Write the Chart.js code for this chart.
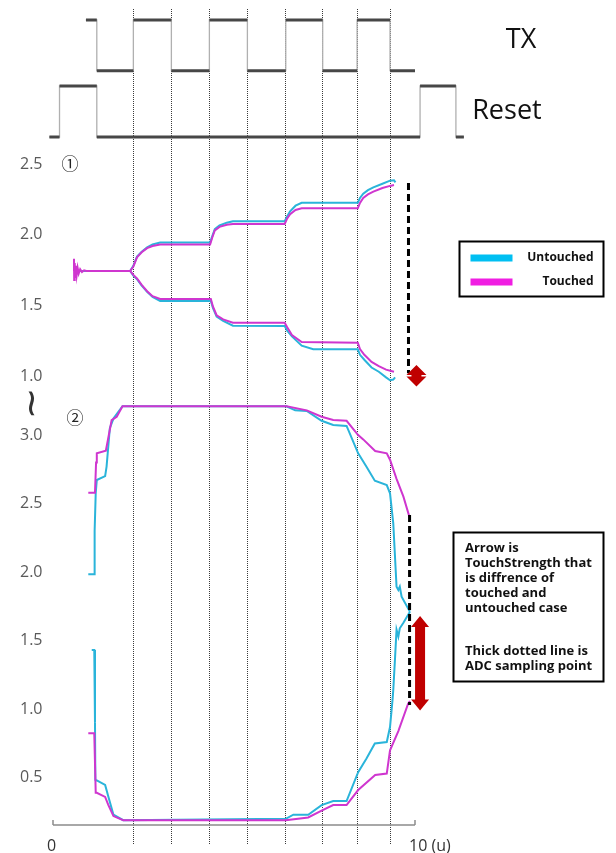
<!DOCTYPE html>
<html><head><meta charset="utf-8">
<script src="https://cdn.jsdelivr.net/npm/chart.js@4.4.1/dist/chart.umd.min.js"></script>
<style>html,body{margin:0;padding:0;background:#fff}#wrap{width:616px;height:853px}</style>
</head><body><div id="wrap"><canvas id="c" width="616" height="853"></canvas></div>
<script>
// ---------- data ----------
const seriesNames = ['Untouched', 'Touched'];
const xTickValues = [0, 10];
const xTickLabels = ['0', '10 (u)'];
const panel1Ticks = [1.0, 1.5, 2.0, 2.5];
const panel2Ticks = [0.5, 1.0, 1.5, 2.0, 2.5, 3.0];
const phaseMarkers = [2.21, 3.26, 4.31, 5.36, 6.42, 7.44, 8.40, 9.31];

// digital waveforms (time, level held until next time)
const txTimes  = [0.91, 1.21, 2.22, 3.27, 4.32, 5.37, 6.43, 7.45, 8.40, 9.31, 10.0];
const txLevels = [1, 0, 1, 0, 1, 0, 1, 0, 1, 0, 0];
const rstTimes  = [-0.10, 0.18, 1.21, 10.14, 11.13, 11.35];
const rstLevels = [0, 1, 0, 1, 0, 0];

// panel 1 (V)
const p1UntouchedUpper = [[0.58,1.743],[2.13,1.743],[2.22,1.78],[2.32,1.845],[2.45,1.88],[2.60,1.91],[2.75,1.93],[2.96,1.945],[4.34,1.945],[4.40,1.99],[4.47,2.04],[4.60,2.065],[4.80,2.085],[4.97,2.095],[6.40,2.095],[6.47,2.13],[6.55,2.165],[6.70,2.205],[6.87,2.225],[8.42,2.225],[8.48,2.26],[8.57,2.29],[8.70,2.315],[8.85,2.335],[9.10,2.36],[9.31,2.382],[9.42,2.385],[9.46,2.37]];
const p1UntouchedLower = [[2.13,1.743],[2.22,1.71],[2.32,1.685],[2.45,1.64],[2.60,1.595],[2.75,1.56],[2.96,1.531],[4.36,1.531],[4.42,1.48],[4.52,1.42],[4.70,1.39],[4.97,1.356],[6.40,1.354],[6.47,1.32],[6.60,1.28],[6.87,1.215],[7.19,1.189],[8.42,1.189],[8.48,1.15],[8.60,1.115],[8.80,1.06],[9.00,1.03],[9.20,0.99],[9.31,0.97],[9.40,0.975],[9.45,0.99]];
const p1TouchedUpper = [[0.56,1.743],[0.58,1.83],[0.585,1.68],[0.60,1.80],[0.615,1.70],[0.635,1.78],[0.655,1.715],[0.68,1.765],[0.71,1.725],[0.75,1.755],[0.80,1.735],[0.86,1.748],[0.92,1.743],[2.13,1.743],[2.22,1.775],[2.32,1.84],[2.45,1.875],[2.60,1.905],[2.75,1.92],[2.96,1.93],[4.34,1.93],[4.40,1.98],[4.47,2.03],[4.60,2.055],[4.80,2.07],[4.97,2.076],[6.40,2.076],[6.47,2.115],[6.55,2.145],[6.70,2.175],[6.87,2.187],[8.42,2.187],[8.48,2.225],[8.57,2.26],[8.70,2.285],[8.85,2.305],[9.10,2.33],[9.31,2.345],[9.42,2.352]];
const p1TouchedLower = [[2.13,1.743],[2.22,1.715],[2.32,1.69],[2.45,1.645],[2.60,1.60],[2.75,1.565],[2.96,1.545],[4.36,1.545],[4.42,1.49],[4.52,1.43],[4.70,1.40],[4.97,1.377],[6.40,1.377],[6.47,1.345],[6.60,1.29],[6.87,1.24],[8.42,1.236],[8.48,1.19],[8.60,1.15],[8.80,1.10],[9.00,1.07],[9.20,1.045],[9.42,1.03]];

// panel 2 (V)
const p2UntouchedUpper = [[0.975,1.984],[1.14,1.984],[1.15,2.30],[1.18,2.575],[1.21,2.672],[1.44,2.70],[1.48,2.77],[1.57,3.05],[1.67,3.12],[1.92,3.21],[6.45,3.21],[6.69,3.18],[7.01,3.175],[7.42,3.104],[7.74,3.073],[8.11,3.066],[8.43,2.866],[8.66,2.769],[8.89,2.667],[9.22,2.635],[9.31,2.575],[9.40,2.356],[9.49,1.894],[9.54,1.87],[9.58,1.894],[9.63,1.82],[9.86,1.711]];
const p2UntouchedLower = [[1.07,1.432],[1.14,1.432],[1.16,0.90],[1.17,0.484],[1.21,0.48],[1.44,0.447],[1.53,0.361],[1.67,0.23],[1.94,0.19],[6.43,0.20],[6.64,0.23],[7.05,0.23],[7.42,0.30],[7.74,0.33],[8.11,0.33],[8.43,0.54],[8.66,0.64],[8.89,0.75],[9.22,0.76],[9.31,0.87],[9.38,1.07],[9.40,1.14],[9.45,1.38],[9.49,1.58],[9.54,1.53],[9.58,1.59],[9.68,1.63],[9.86,1.711]];
const p2TouchedUpper = [[0.975,2.579],[1.16,2.579],[1.19,2.80],[1.21,2.866],[1.46,2.885],[1.62,3.109],[1.76,3.133],[1.92,3.21],[6.45,3.21],[7.01,3.18],[7.42,3.133],[7.74,3.109],[8.11,3.104],[8.43,3.0],[8.57,2.968],[8.90,2.883],[9.22,2.866],[9.31,2.82],[9.49,2.68],[9.68,2.55],[9.86,2.39]];
const p2TouchedLower = [[0.975,0.824],[1.14,0.824],[1.18,0.39],[1.21,0.39],[1.44,0.36],[1.53,0.30],[1.67,0.22],[1.94,0.19],[6.43,0.19],[7.05,0.21],[7.42,0.26],[7.74,0.30],[8.11,0.30],[8.43,0.41],[8.90,0.52],[9.22,0.53],[9.31,0.70],[9.54,0.84],[9.81,1.04],[9.86,1.06]];

// ADC sampling points and touch-strength arrows
const p1Sampling = [[9.82,2.366],[9.82,1.02]];
const p2Sampling = [[9.85,2.416],[9.85,1.03]];
const p1Arrow = {x:10.04, from:0.925, to:1.078};
const p2Arrow = {x:10.14, from:0.99, to:1.68};

const noteLines = ['Arrow is','TouchStrength that','is diffrence of','touched and','untouched case','','Thick dotted line is','ADC sampling point'];

// ---------- styles ----------
const CYAN = '#2ab4da', MAG = '#cf36cf';
const CYAN_KEY = '#00bff2', MAG_KEY = '#f01ee2';
const FONT = "'Open Sans', 'Noto Sans', sans-serif";

const pts = a => a.map(([x,y]) => ({x, y}));
function levelSegments(times, levels){
  const out = [];
  for (let i = 0; i < times.length - 1; i++){
    out.push({x:times[i], y:levels[i]}, {x:times[i+1], y:levels[i]}, {x:times[i+1], y:null});
  }
  return out;
}
const stepPts = (t, l) => t.map((v,i) => ({x:v, y:l[i]}));

function curve(data, color, axis, order){
  return {data: pts(data), borderColor: color, borderWidth: 2, yAxisID: axis, order, pointRadius: 0, fill: false, spanGaps: false};
}

const datasets = [
  {data: stepPts(txTimes, txLevels), stepped: true, borderColor:'#b0b0b0', borderWidth:1.3, yAxisID:'yTX', order:5, pointRadius:0},
  {data: levelSegments(txTimes, txLevels), borderColor:'#474747', borderWidth:3, yAxisID:'yTX', order:4, pointRadius:0, spanGaps:false},
  {data: stepPts(rstTimes, rstLevels), stepped: true, borderColor:'#b0b0b0', borderWidth:1.3, yAxisID:'yRS', order:5, pointRadius:0},
  {data: levelSegments(rstTimes, rstLevels), borderColor:'#474747', borderWidth:3, yAxisID:'yRS', order:4, pointRadius:0, spanGaps:false},
  curve(p1UntouchedUpper, CYAN, 'y1', 2),
  curve(p1UntouchedLower, CYAN, 'y1', 2),
  curve(p1TouchedUpper, MAG, 'y1', 1),
  curve(p1TouchedLower, MAG, 'y1', 1),
  curve(p2UntouchedUpper, CYAN, 'y2', 2),
  curve(p2UntouchedLower, CYAN, 'y2', 2),
  curve(p2TouchedUpper, MAG, 'y2', 1),
  curve(p2TouchedLower, MAG, 'y2', 1),
  {data: pts(p1Sampling), borderColor:'#000', borderWidth:3, borderDash:[7,4], yAxisID:'y1', order:0, pointRadius:0},
  {data: pts(p2Sampling), borderColor:'#000', borderWidth:3, borderDash:[7,4], yAxisID:'y2', order:0, pointRadius:0}
];

function doubleArrow(ctx, x, yTop, yBot, headW, shaftW, headL){
  const hs = shaftW/2, hh = headW/2;
  const hl = Math.min(headL, (yBot - yTop)/2);
  ctx.beginPath();
  ctx.moveTo(x, yTop);
  ctx.lineTo(x + hh, yTop + hl);
  ctx.lineTo(x + hs, yTop + hl);
  ctx.lineTo(x + hs, yBot - hl);
  ctx.lineTo(x + hh, yBot - hl);
  ctx.lineTo(x, yBot);
  ctx.lineTo(x - hh, yBot - hl);
  ctx.lineTo(x - hs, yBot - hl);
  ctx.lineTo(x - hs, yTop + hl);
  ctx.lineTo(x - hh, yTop + hl);
  ctx.closePath();
  ctx.fill();
}

const decor = {
  id: 'decor',
  beforeDatasetsDraw(chart){
    const {ctx, chartArea, scales:{x}} = chart;
    ctx.save();
    ctx.strokeStyle = '#3a3a3a';
    ctx.lineWidth = 1;
    ctx.setLineDash([1, 1]);
    phaseMarkers.forEach(v => {
      const px = Math.round(x.getPixelForValue(v)) + 0.5;
      ctx.beginPath();
      ctx.moveTo(px, chartArea.top + 9);
      ctx.lineTo(px, chartArea.bottom + 20);
      ctx.stroke();
    });
    ctx.restore();
  },
  afterDraw(chart){
    const {ctx, chartArea, scales:{x, y1, y2, yTX, yRS}} = chart;
    ctx.save();
    // x axis line
    const xa = x.getPixelForValue(xTickValues[0]), xb = x.getPixelForValue(xTickValues[xTickValues.length-1]);
    const ya = chartArea.bottom;
    ctx.strokeStyle = '#8c8c8c'; ctx.lineWidth = 1.5;
    ctx.beginPath();
    ctx.moveTo(xa, ya); ctx.lineTo(xb, ya);
    ctx.moveTo(xa, ya); ctx.lineTo(xa, ya - 5);
    ctx.moveTo(xb, ya); ctx.lineTo(xb, ya - 5);
    ctx.stroke();

    // red arrows
    ctx.fillStyle = '#c00000';
    doubleArrow(ctx, x.getPixelForValue(p1Arrow.x), y1.getPixelForValue(p1Arrow.to), y1.getPixelForValue(p1Arrow.from), 20, 10, 10);
    doubleArrow(ctx, x.getPixelForValue(p2Arrow.x), y2.getPixelForValue(p2Arrow.to), y2.getPixelForValue(p2Arrow.from), 18, 10, 11);

    // signal names
    ctx.fillStyle = '#111';
    ctx.font = `27px ${FONT}`;
    ctx.textAlign = 'center'; ctx.textBaseline = 'middle';
    ctx.fillText('TX', x.getPixelForValue(12.93), yTX.getPixelForValue(0.6));
    ctx.fillText('Reset', x.getPixelForValue(12.54), yRS.getPixelForValue(0.5));

    // panel numbers
    ctx.font = `17px 'Noto Sans CJK KR', 'DejaVu Sans', sans-serif`;
    ctx.fillStyle = '#222';
    ctx.fillText('\u2460', x.getPixelForValue(0.47), y1.getPixelForValue(2.5));
    ctx.fillText('\u2461', x.getPixelForValue(0.61), y2.getPixelForValue(3.13));
    // axis break mark (rotated tilde)
    ctx.save();
    ctx.translate(x.getPixelForValue(-0.64), y2.getPixelForValue(3.23));
    ctx.rotate(Math.PI / 2);
    ctx.font = `38px 'DejaVu Sans', sans-serif`;
    ctx.fillStyle = '#333';
    ctx.fillText('~', 0, 0);
    ctx.restore();

    // legend box
    const L = {x:459.5, y:241.5, w:144, h:55};
    ctx.strokeStyle = '#000'; ctx.lineWidth = 2;
    ctx.strokeRect(L.x, L.y, L.w, L.h);
    const keyColors = [CYAN_KEY, MAG_KEY];
    ctx.font = `bold 12px ${FONT}`;
    ctx.textAlign = 'right'; ctx.textBaseline = 'middle';
    seriesNames.forEach((n, i) => {
      const yy = L.y + 16.5 + i * 24;
      ctx.fillStyle = keyColors[i];
      ctx.fillRect(L.x + 11, yy - 3.5, 42, 7);
      ctx.fillStyle = '#111';
      ctx.fillText(n, L.x + L.w - 10, yy);
    });

    // note box
    const N = {x:453.5, y:532.5, w:150, h:149};
    ctx.strokeStyle = '#000'; ctx.lineWidth = 2;
    ctx.strokeRect(N.x, N.y, N.w, N.h);
    ctx.fillStyle = '#111';
    ctx.font = `bold 13px ${FONT}`;
    ctx.textAlign = 'left';
    let ty = N.y + 15.5;
    noteLines.forEach(t => {
      if (t === '') { ty += 28.7; return; }
      ctx.fillText(t, N.x + 11.5, ty);
      ty += 15;
    });
    ctx.restore();
  }
};

function noPad(s){ s.paddingTop = 0; s.paddingBottom = 0; s.paddingLeft = 0; s.paddingRight = 0; }

const axisBase = {
  grid: {display:false, drawTicks:false},
  border: {display:false}
};

new Chart(document.getElementById('c'), {
  type: 'line',
  data: {datasets},
  options: {
    responsive: false,
    animation: false,
    devicePixelRatio: 1,
    layout: {padding: 0, autoPadding: false},
    plugins: {legend: {display:false}, tooltip: {enabled:false}},
    elements: {point: {radius:0}, line: {tension:0}},
    scales: {
      x: {
        type:'linear', position:'bottom', min:-1.4641, max:15.5525,
        ...axisBase,
        afterFit(s){ s.height = 28; noPad(s); },
        afterBuildTicks(s){ s.ticks = xTickValues.map(v => ({value:v})); },
        ticks: {align:'start', labelOffset:-6, padding:12, color:'#333', font:{family:FONT, size:16},
          autoSkip:false, maxRotation:0, callback:(v, i) => xTickLabels[i]}
      },
      yTX: {type:'linear', display:false, min:-14.878, max:1.3945},
      yRS: {type:'linear', display:false, min:-13.49, max:2.686},
      y1: {
        type:'linear', position:'left', min:-2.177, max:3.6604,
        ...axisBase,
        afterFit(s){ s.width = 0; noPad(s); },
        afterBuildTicks(s){ s.ticks = panel1Ticks.map(v => ({value:v})); },
        ticks: {mirror:true, padding:20, color:'#5a5a5a', font:{family:FONT, size:16}, autoSkip:false, callback:v => v.toFixed(1)}
      },
      y2: {
        type:'linear', position:'left', min:0.155, max:6.1734,
        ...axisBase,
        afterFit(s){ s.width = 0; noPad(s); },
        afterBuildTicks(s){ s.ticks = panel2Ticks.map(v => ({value:v})); },
        ticks: {mirror:true, padding:20, color:'#5a5a5a', font:{family:FONT, size:16}, autoSkip:false, callback:v => v.toFixed(1)}
      }
    }
  },
  plugins: [decor]
});
</script>
</body></html>
